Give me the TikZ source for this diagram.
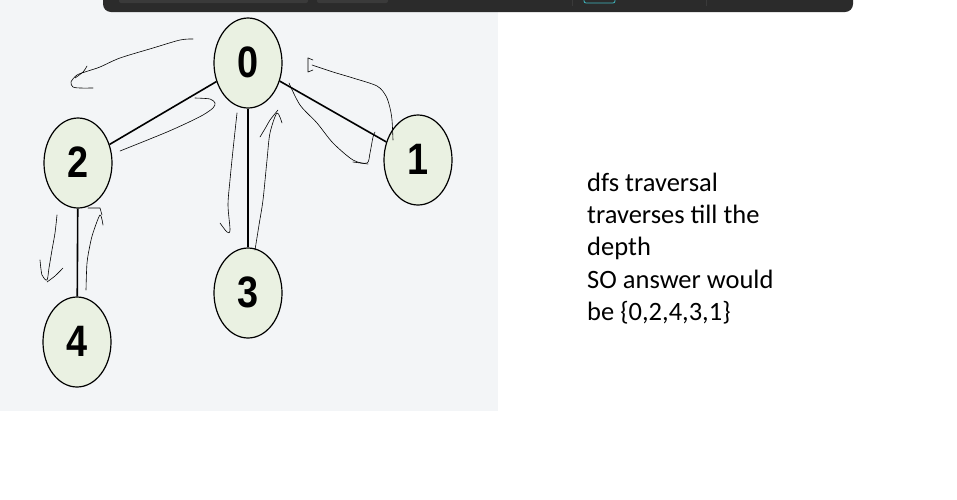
\documentclass[tikz,border=0pt]{standalone}
\usepackage{fontspec}
\setmainfont{Carlito}
\newfontfamily\digitfont{Liberation Sans}
\usetikzlibrary{shapes.geometric}
\definecolor{panel}{HTML}{F3F5F7}
\definecolor{nodefill}{HTML}{EAF1E2}
\definecolor{barcol}{HTML}{2B2B2B}
\definecolor{barbox}{HTML}{3A3A3A}
\definecolor{teal}{HTML}{3FB8C0}
\tikzset{
  vert/.style={ellipse, draw=black, line width=1.2pt, fill=nodefill, minimum width=68pt, minimum height=90pt, inner sep=0pt,
    font=\digitfont\bfseries\fontsize{44}{44}\selectfont},
  edge/.style={line width=1.6pt, black},
  pen/.style={line width=0.6pt, black, line cap=round, line join=round},
  txt/.style={anchor=base west, inner sep=0pt, font=\fontsize{26.5}{26.5}\selectfont}
}
\begin{document}
\begin{tikzpicture}[x=1pt,y=-1pt]
\useasboundingbox (0,0) rectangle (957,499);
\fill[white] (0,0) rectangle (957,499);
\fill[panel] (0,0) rectangle (498,411);
% top bar
\fill[barcol, rounded corners=8pt] (103,-20) rectangle (853,12);
\fill[barbox, rounded corners=2pt] (119,-6) rectangle (308,3);
\fill[barbox, rounded corners=2pt] (317,-6) rectangle (388,3);
\draw[barbox, line width=0.6pt] (572,0) -- (572,6);
\draw[barbox, line width=0.6pt] (706,0) -- (706,6);
\draw[teal, line width=0.8pt, rounded corners=2pt] (584,-4) rectangle (615,3);
% nodes
\node[vert] (n0) at (248,63) {\raisebox{1.5pt}{\scalebox{0.86}[1]{0}}};
\node[vert] (n2) at (78,163) {\raisebox{1.5pt}{\scalebox{0.86}[1]{2}}};
\node[vert] (n1) at (418,160) {\raisebox{1.5pt}{\scalebox{0.86}[1]{1}}};
\node[vert] (n3) at (248,293) {\raisebox{1.5pt}{\scalebox{0.86}[1]{3}}};
\node[vert] (n4) at (77,342) {\raisebox{1.5pt}{\scalebox{0.86}[1]{4}}};
% edges
\draw[edge] (n0) -- (n2);
\draw[edge] (n0) -- (n1);
\draw[edge] (n0) -- (n3);
\draw[edge] (n2) -- (n4);
% freehand strokes
\draw[pen] plot[smooth, tension=0.5] coordinates {(193,39) (180,40) (153,48) (120,58) (100,67) (88,71) (77,75) (71,82) (73,87) (80,88) (93,88)};
\draw[pen] plot[smooth, tension=0.5] coordinates {(87,66) (83,72) (75,78)};
\draw[pen] plot[smooth, tension=0.5] coordinates {(120,151) (140,143) (167,132) (187,123) (203,115) (213,108) (215,103) (210,99) (195,98)};
\draw[pen] plot[smooth, tension=0.5] coordinates {(237,113) (233,150) (230,180) (228,205) (230,230) (227,232) (220,223)};
\draw[pen] plot[smooth, tension=0.5] coordinates {(255,250) (259,225) (263,200) (267,160) (270,133) (277,113) (282,123)};
\draw[pen] plot[smooth, tension=0.5] coordinates {(260,137) (266,127) (270,120) (278,110)};
\draw[pen] plot[smooth, tension=0.5] coordinates {(289,83) (300,105) (317,123) (333,143) (353,160) (367,163) (370,153) (373,137) (375,132)};
\draw[pen] plot[smooth, tension=0.5] coordinates {(353,162) (368,164)};
\draw[pen] plot[smooth, tension=0.5] coordinates {(393,140) (392,120) (390,108) (386,96) (377,86) (353,78) (333,72) (312,65)};
\draw[pen] (308,58) -- (308,72) -- (313,70);
\draw[pen] (308,58) -- (313,60);
\draw[pen] plot[smooth, tension=0.5] coordinates {(57,215) (55,233) (52,250) (49,268) (47,280) (42,275) (40,260)};
\draw[pen] plot[smooth, tension=0.5] coordinates {(47,282) (55,276) (63,268)};
\draw[pen] plot[smooth, tension=0.5] coordinates {(86,290) (87,263) (90,245) (93,233) (100,215) (103,225)};
\draw[pen] (88,208) -- (100,208) -- (102,215);
% text
\node[txt] (t1) at (587,191) {dfs traversal};
\node[txt] (t2) at (587,223) {traverses till the};
\node[txt] (t3) at (587,255) {depth};
\node[txt] (t4) at (587,288) {SO answer would};
\node[txt] (t5) at (587,320) {be \{0,2,4,3,1\}};
\end{tikzpicture}
\end{document}
